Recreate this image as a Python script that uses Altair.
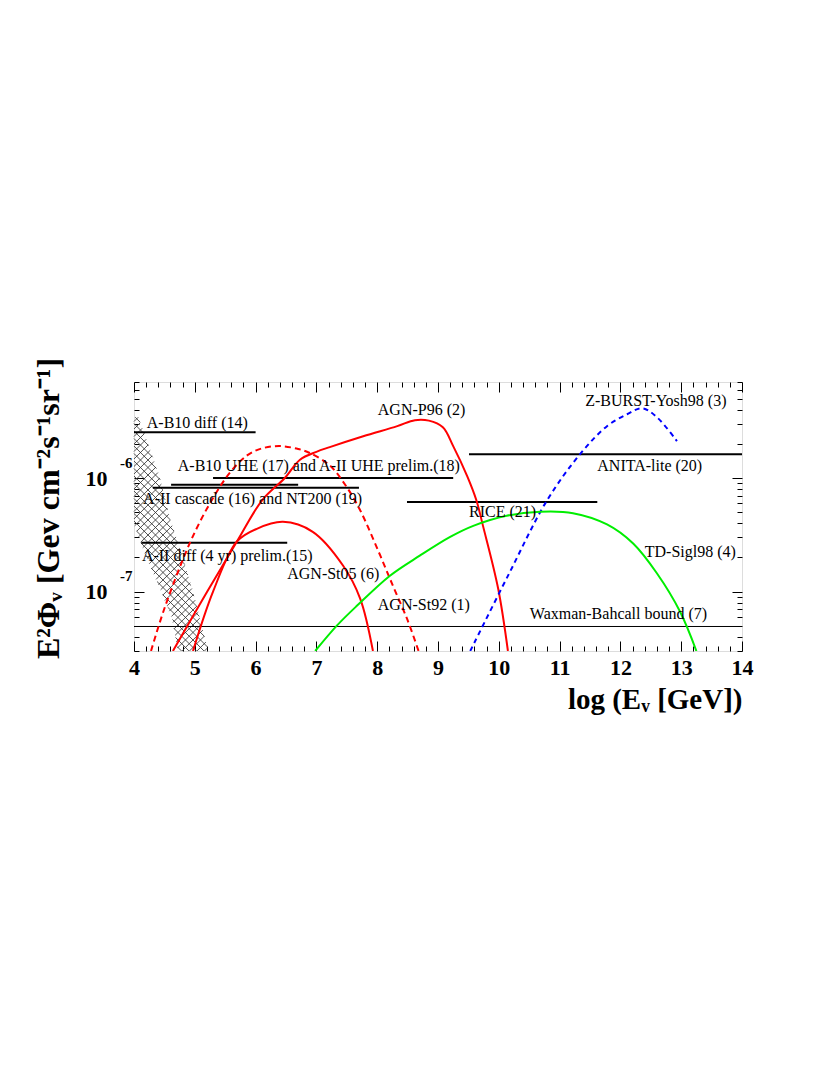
import altair as alt
import pandas as pd
import math

# x = log10(E_nu / GeV), y = E^2 Phi  [GeV cm^-2 s^-1 sr^-1]
W, H = 608, 269
X_DOMAIN = [4, 14]
Y_DOMAIN = [3e-8, 7e-6]

# ---------------- model curves ----------------
p96_x = [4.64, 5.2, 5.7, 6.11, 6.48, 6.73, 7.0, 7.22, 7.77, 8.33, 8.62, 8.85, 9.08, 9.25, 9.48, 9.63, 9.74, 9.99, 10.15]
p96_y = [3.0e-8, 9.9e-8, 2.8e-7, 6.4e-7, 1.0e-6, 1.45e-6, 1.7e-6, 1.87e-6, 2.33e-6, 2.86e-6, 3.23e-6, 3.2e-6,
         2.8e-6, 1.91e-6, 1.04e-6, 6.4e-7, 3.79e-7, 1.06e-7, 3.0e-8]

st05_x = [4.97, 5.30, 5.69, 6.02, 6.45, 6.94, 7.44, 7.72, 7.93]
st05_y = [3.0e-8, 1.0e-7, 2.75e-7, 3.57e-7, 4.11e-7, 3.36e-7, 1.69e-7, 8.69e-8, 3.0e-8]

st92_x = [4.28, 4.5, 4.92, 5.25, 5.58, 5.86, 6.1, 6.40, 6.7, 6.89, 7.22, 7.50, 7.72, 8.0, 8.26, 8.5, 8.68]
st92_y = [3.0e-8, 7.1e-8, 2.69e-7, 6.0e-7, 1.12e-6, 1.58e-6, 1.82e-6, 1.91e-6, 1.80e-6, 1.66e-6,
          1.29e-6, 8.3e-7, 5.2e-7, 2.4e-7, 1.12e-7, 5.6e-8, 3.0e-8]

zb_x = [9.53, 10.16, 10.79, 11.34, 11.78, 12.11, 12.36, 12.60, 12.93]
zb_y = [3.0e-8, 1.41e-7, 6.31e-7, 1.63e-6, 2.86e-6, 3.64e-6, 4.11e-6, 3.43e-6, 2.11e-6]

td_x = [6.98, 7.34, 7.67, 8.21, 8.70, 9.20, 9.58, 10.13, 10.68, 11.22, 11.78, 12.21, 12.60, 12.98, 13.25]
td_y = [3.0e-8, 5.04e-8, 7.53e-8, 1.38e-7, 2.07e-7, 3.03e-7, 3.79e-7, 4.65e-7, 5.04e-7, 4.9e-7,
        3.9e-7, 2.65e-7, 1.45e-7, 6.68e-8, 3.0e-8]

# ---------------- experimental limits (horizontal segments) ----------------
lim_x1 = [4.0, 5.30, 4.61, 4.31, 8.49, 9.51, 4.12]
lim_x2 = [6.0, 9.25, 6.70, 7.70, 11.62, 14.0, 6.52]
lim_y = [2.53e-6, 1.0e-6, 8.7e-7, 8.2e-7, 6.15e-7, 1.62e-6, 2.69e-7]

wb_x1, wb_x2, wb_y = 4.0, 14.0, 4.93e-8

# ---------------- atmospheric band (hatched) ----------------
band_x = [4.0, 4.07, 4.26, 4.43, 4.59, 4.81, 5.0, 5.22, 4.72, 4.63, 4.43, 4.18, 4.0]
band_y = [3.43e-6, 3.43e-6, 1.8e-6, 9.8e-7, 4.4e-7, 1.95e-7, 8.7e-8, 3.0e-8, 3.0e-8, 5.8e-8, 1.06e-7, 2.15e-7, 3.94e-7]

# ---------------- annotations ----------------
lab_text = ["A-B10 diff (14)", "AGN-P96 (2)", "Z-BURST-Yosh98 (3)",
            "A-B10 UHE (17) and A-II UHE prelim.(18)", "ANITA-lite (20)",
            "A-II cascade (16) and NT200 (19)", "RICE (21)", "A-II diff (4 yr) prelim.(15)",
            "AGN-St05 (6)", "AGN-St92 (1)", "TD-Sigl98 (4)", "Waxman-Bahcall bound (7)"]
lab_x = [4.21, 8.01, 11.42, 4.72, 11.62, 4.15, 9.51, 4.13, 6.52, 8.01, 12.40, 10.51]
lab_y = [3.03e-6, 3.94e-6, 4.73e-6, 1.27e-6, 1.27e-6, 6.55e-7, 5.04e-7, 2.07e-7, 1.44e-7, 7.69e-8, 2.24e-7, 6.41e-8]

major_x = list(range(4, 15))
minor_x = [round(4 + 0.2 * i, 1) for i in range(51) if i % 5]
major_y = [1e-7, 1e-6]
minor_y = [float(f"{m}e{e}") for e in (-8, -7, -6) for m in range(2, 10)
           if Y_DOMAIN[0] <= float(f"{m}e{e}") <= Y_DOMAIN[1]]

SERIF = "Liberation Serif"
xs = alt.Scale(domain=X_DOMAIN, nice=False, zero=False)
ys = alt.Scale(type="log", domain=Y_DOMAIN, nice=False)

# ---------------- hatch segments clipped to the band polygon ----------------
poly = [(x, math.log10(y)) for x, y in zip(band_x, band_y)]
HATCH_SLOPE = 0.535   # decades per x unit that appear at 45 degrees
HATCH_STEP = 0.066    # spacing of hatch lines (decades)
segs = []
for s in (HATCH_SLOPE, -HATCH_SLOPE):
    cs = [py - s * px for px, py in poly]
    c = min(cs) + HATCH_STEP / 2
    while c < max(cs):
        pts = []
        n = len(poly)
        for i in range(n):
            x1, y1 = poly[i]
            x2, y2 = poly[(i + 1) % n]
            f1 = y1 - s * x1 - c
            f2 = y2 - s * x2 - c
            if (f1 > 0) != (f2 > 0):
                t = f1 / (f1 - f2)
                pts.append(x1 + t * (x2 - x1))
        pts.sort()
        for j in range(0, len(pts) - 1, 2):
            a, b = pts[j], pts[j + 1]
            segs.append({"x": a, "y": 10 ** (s * a + c), "x2": b, "y2": 10 ** (s * b + c)})
        c += HATCH_STEP
hatch_df = pd.DataFrame(segs)

hatch = alt.Chart(hatch_df).mark_rule(color="#333333", strokeWidth=0.85).encode(
    x=alt.X("x:Q", scale=xs, axis=None), x2="x2:Q",
    y=alt.Y("y:Q", scale=ys, axis=None), y2="y2:Q")

lim_df = pd.DataFrame({"x1": lim_x1, "x2": lim_x2, "y": lim_y})
limits = alt.Chart(lim_df).mark_rule(color="black", strokeWidth=2).encode(
    x=alt.X("x1:Q", scale=xs, axis=None), x2="x2:Q",
    y=alt.Y("y:Q", scale=ys, axis=None))

wb_df = pd.DataFrame({"x1": [wb_x1], "x2": [wb_x2], "y": [wb_y]})
wb = alt.Chart(wb_df).mark_rule(color="black", strokeWidth=1).encode(
    x=alt.X("x1:Q", scale=xs, axis=None), x2="x2:Q",
    y=alt.Y("y:Q", scale=ys, axis=None))


def curve(xv, yv, color, dash=None):
    df = pd.DataFrame({"x": xv, "y": yv})
    kw = dict(color=color, strokeWidth=2, interpolate="catmull-rom", clip=True)
    if dash:
        kw["strokeDash"] = dash
    return alt.Chart(df).mark_line(**kw).encode(
        x=alt.X("x:Q", scale=xs, axis=None),
        y=alt.Y("y:Q", scale=ys, axis=None), order="x:Q")


curves = [
    curve(st92_x, st92_y, "#ff0000", [6, 4]),
    curve(p96_x, p96_y, "#ff0000"),
    curve(st05_x, st05_y, "#ff0000"),
    curve(zb_x, zb_y, "#0000ff", [5, 4]),
    curve(td_x, td_y, "#00ee00"),
]

lab_df = pd.DataFrame({"t": lab_text, "x": lab_x, "y": lab_y})
labels = alt.Chart(lab_df).mark_text(align="left", baseline="middle", font=SERIF,
                                     fontSize=16, color="black").encode(
    x=alt.X("x:Q", scale=xs, axis=None), y=alt.Y("y:Q", scale=ys, axis=None), text="t:N")

dummy = pd.DataFrame({"x": [9.0], "y": [1e-6]})


def axis_layer(xaxis, yaxis):
    return alt.Chart(dummy).mark_point(opacity=0).encode(
        x=alt.X("x:Q", scale=xs, axis=xaxis), y=alt.Y("y:Q", scale=ys, axis=yaxis))


def tick_axis(orient, offset, values, size):
    return alt.Axis(orient=orient, offset=offset, values=values, tickSize=size, tickColor="black",
                    tickWidth=1, labels=False, domain=False, grid=False, title=None)


x_label_axis = alt.Axis(orient="bottom", values=major_x, ticks=False, domain=False, grid=False,
                        format="d", labelFont=SERIF, labelFontSize=22, labelFontWeight="bold",
                        labelColor="black", labelPadding=6, labelFlush=False, labelOverlap=False,
                        title="log (E\u1d65 [GeV])", titleFont=SERIF, titleFontSize=29,
                        titleFontWeight="bold", titleColor="black", titleAlign="right",
                        titleBaseline="alphabetic", titleX=W, titleY=57)
y_label_axis = alt.Axis(orient="left", values=major_y, ticks=False, domain=False, grid=False,
                        labelExpr="'10'", labelFont=SERIF, labelFontSize=22, labelFontWeight="bold",
                        labelColor="black", labelPadding=27, labelFlush=False, labelOverlap=False,
                        title="E\u00b2\u03a6\u1d65 [Gev cm\u207b\u00b2s\u207b\u00b9sr\u207b\u00b9]",
                        titleFont=SERIF, titleFontSize=32, titleFontWeight="bold", titleColor="black",
                        titleAngle=270, titleAlign="center", titleBaseline="middle",
                        titleX=-86, titleY=126)
y_sup_axis = alt.Axis(orient="left", values=major_y, ticks=False, domain=False, grid=False,
                      labelExpr="datum.value < 3e-7 ? '-7' : '-6'", labelFont=SERIF, labelFontSize=15,
                      labelFontWeight="bold", labelColor="black", labelPadding=2, labelOffset=-16,
                      labelFlush=False, labelOverlap=False, title=None)

axes = [
    axis_layer(x_label_axis, y_label_axis),
    axis_layer(None, y_sup_axis),
    axis_layer(tick_axis("top", -H, major_x, 10), tick_axis("right", -W, major_y, 10)),
    axis_layer(tick_axis("top", -H, minor_x, 5), tick_axis("right", -W, minor_y, 5)),
    axis_layer(tick_axis("bottom", -H, major_x, 10), tick_axis("left", -W, major_y, 10)),
    axis_layer(tick_axis("bottom", -H, minor_x, 5), tick_axis("left", -W, minor_y, 5)),
]

chart = alt.layer(hatch, limits, wb, *curves, labels, *axes).resolve_axis(
    x="independent", y="independent"
).properties(
    width=W, height=H,
    autosize=alt.AutoSizeParams(type="none"),
    padding={"left": 126, "top": 374, "right": 80, "bottom": 110},
).configure_view(stroke="black", strokeWidth=1).configure(background="white")

chart.save("out.html", embed_options={"renderer": "svg", "actions": False})
